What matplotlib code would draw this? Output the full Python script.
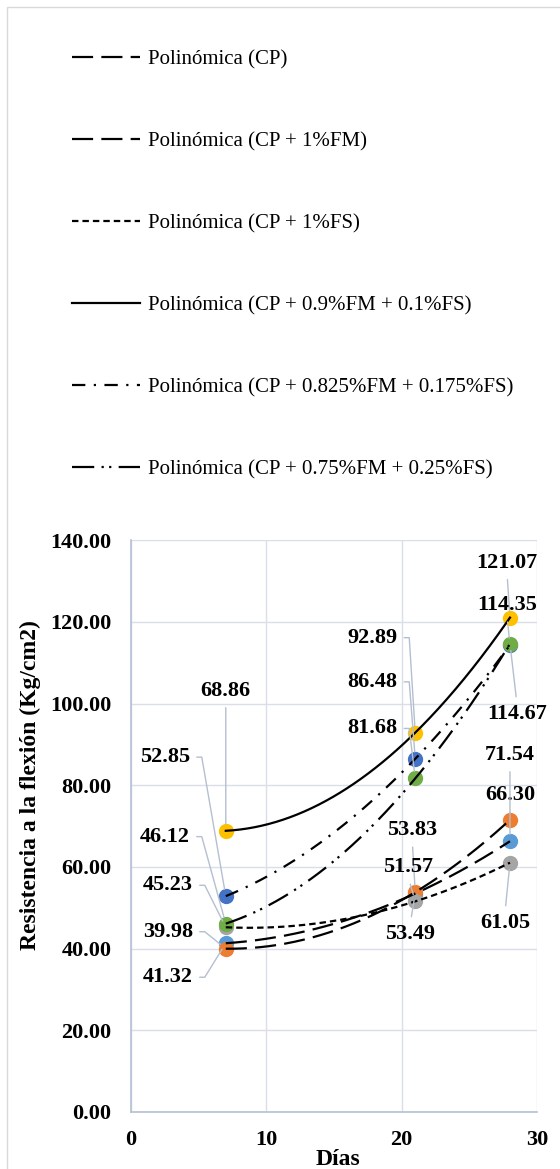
import numpy as np
import matplotlib.pyplot as plt
from matplotlib.patches import Rectangle

plt.rcParams['font.family'] = ['Liberation Serif', 'DejaVu Serif']

# data (días de curado vs resistencia a la flexión)
dias = [7, 21, 28]
nombres = ['Polinómica (CP)', 'Polinómica (CP + 1%FM)', 'Polinómica (CP + 1%FS)',
           'Polinómica (CP + 0.9%FM + 0.1%FS)', 'Polinómica (CP + 0.825%FM + 0.175%FS)',
           'Polinómica (CP + 0.75%FM + 0.25%FS)']
cp = [41.32, 53.49, 66.30]
cp_fm = [39.98, 53.83, 71.54]
cp_fs = [45.23, 51.57, 61.05]
cp_09 = [68.86, 92.89, 121.07]
cp_0825 = [52.85, 86.48, 114.35]
cp_075 = [46.12, 81.68, 114.67]
series = [cp, cp_fm, cp_fs, cp_09, cp_0825, cp_075]

colores = ['#5B9BD5', '#ED7D31', '#A5A5A5', '#FFC000', '#4472C4', '#70AD47']
estilos = [(0, (9.5, 3.7)), (0, (9.5, 3.7)), (0, (2.9, 1.8)), '-',
           (0, (6, 3.8, 1, 3.8)), (0, (10, 3.3, 1, 2.4, 1, 3.3))]

# label offsets in pixels from each point: (dx, dy, ha, leader type)
offs = [
    [(-33, -34, 'right', 'side'), (-5, -40, 'center', 'below'), (0, 46, 'center', 'above')],
    [(-33, 17, 'right', 'side'), (-3, 62, 'center', 'above'), (0, 65, 'center', 'above')],
    [(-33, 42, 'right', 'side'), (-7, 34, 'center', 'above'), (-5, -60, 'center', 'below')],
    [(0, 140, 'center', 'above'), (-18, 95, 'right', 'side'), (-3, 55, 'center', 'above')],
    [(-36, 139, 'right', 'side'), (-18, 77, 'right', 'side'), (-3, 40, 'center', 'above')],
    [(-36, 87, 'right', 'side'), (-18, 50, 'right', 'side'), (7, -70, 'center', 'below')],
]

fig = plt.figure(figsize=(5.6, 11.69), dpi=100)
ax = fig.add_axes([0.234, 0.0488, 0.725, 0.489])

for vals, c in zip(series, colores):
    ax.plot(dias, vals, 'o', color=c, markersize=10, zorder=3)

xs = np.linspace(7, 28, 200)
lineas = []
for vals, ls, nom in zip(series, estilos, nombres):
    coef = np.polyfit(dias, vals, 2)
    l, = ax.plot(xs, np.polyval(coef, xs), color='black', lw=1.6, linestyle=ls,
                 label=nom, zorder=4)
    lineas.append(l)

gris = '#b4bfd0'
for vals, o in zip(series, offs):
    for x, v, (dx, dy, ha, tipo) in zip(dias, vals, o):
        if tipo == 'side':
            rel, cs = (1, 0.5), 'arc,angleA=0,armA=12,angleB=0,armB=0,rad=0'
        elif tipo == 'above':
            rel, cs = (0.5, 0), 'arc3'
        else:
            rel, cs = (0.5, 1), 'arc3'
        ax.annotate(f'{v:.2f}', (x, v), xytext=(dx, dy), textcoords='offset pixels',
                    ha=ha, va='center', fontsize=16, fontweight='bold', zorder=5,
                    arrowprops=dict(arrowstyle='-', color=gris, lw=1, relpos=rel,
                                    connectionstyle=cs, shrinkA=3, shrinkB=5))

ax.set_xlim(0, 30)
ax.set_ylim(0, 140)
ax.set_xticks([0, 10, 20, 30])
ax.set_yticks(np.arange(0, 141, 20))
ax.yaxis.set_major_formatter(lambda v, p: f'{v:.2f}')
ax.grid(True, color='#d9dee8', lw=1)
ax.set_axisbelow(True)
for s in ['top', 'right']:
    ax.spines[s].set_visible(False)
for s in ['left', 'bottom']:
    ax.spines[s].set_color('#b4c0d4')
    ax.spines[s].set_linewidth(1.2)
ax.tick_params(length=0, labelsize=16)
ax.tick_params(axis='y', pad=14)
ax.tick_params(axis='x', pad=13)
for t in ax.get_xticklabels() + ax.get_yticklabels():
    t.set_fontweight('bold')

ax.set_ylabel('Resistencia a la flexión (Kg/cm2)', fontsize=17, fontweight='bold')
ax.yaxis.set_label_coords(-0.222, 0.572)
ax.set_xlabel('Días', fontsize=17, fontweight='bold')
ax.xaxis.set_label_coords(0.51, -0.064)

fig.legend(handles=lineas, loc='upper left', bbox_to_anchor=(0.128, 0.9575),
           frameon=False, fontsize=15, handlelength=3.3, handletextpad=0.35,
           labelspacing=3.0, borderpad=0, borderaxespad=0)

fig.patches.append(Rectangle((7 / 560, -0.1), 1.2, 1 - 7 / 1169 + 0.1,
                             transform=fig.transFigure, fill=False,
                             edgecolor='#d9d9d9', lw=1))

fig.savefig('out.png', dpi=100)
